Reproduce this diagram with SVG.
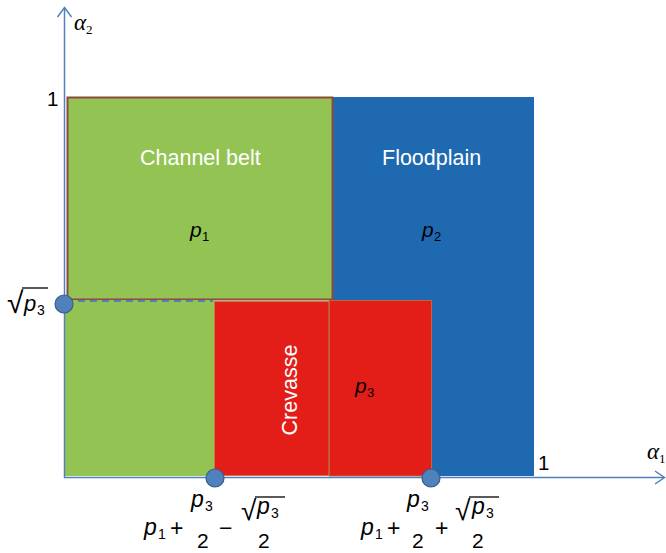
<svg xmlns="http://www.w3.org/2000/svg" width="666" height="553" viewBox="0 0 666 553">
<style>
.lbl{font-family:"Liberation Sans",Arial,sans-serif;font-size:21.5px;fill:#ffffff}
.m{font-family:"Liberation Sans",Arial,sans-serif;font-size:23px;fill:#000000}
.mi{font-family:"Liberation Sans",Arial,sans-serif;font-size:23px;font-style:italic;fill:#000000}
.sub{font-family:"Liberation Sans",Arial,sans-serif;font-size:14px;fill:#000000}
.den{font-family:"Liberation Sans",Arial,sans-serif;font-size:21px;fill:#000000}
.ri{font-family:"Liberation Sans",Arial,sans-serif;font-size:21px;font-style:italic;fill:#000000}
.rs{font-family:"Liberation Sans",Arial,sans-serif;font-size:13px;fill:#000000}
.gr{font-family:"Liberation Serif","Times New Roman",serif;font-size:23px;font-style:italic;fill:#000000}
.gs{font-family:"Liberation Serif","Times New Roman",serif;font-size:13px;fill:#000000}
.tick{font-family:"Liberation Sans",Arial,sans-serif;font-size:20.5px;fill:#000000}
.ax{stroke:#4F81BD;stroke-width:1.5;fill:none}
.dot{fill:#4F81BD;stroke:#385D8A;stroke-width:1.2}
.bar{stroke:#000000;stroke-width:1.3}
</style>
<rect width="666" height="553" fill="#ffffff"/>

<g id="floodplain">
<rect x="333" y="97" width="201" height="379" fill="#1F69B1"/>
<text class="lbl" x="382" y="165">Floodplain</text>
<text class="ri" x="422" y="237">p</text><text class="rs" x="434" y="241">2</text>
</g>

<g id="channel-belt">
<rect x="67.5" y="97.5" width="265" height="202" fill="#93C353" stroke="#8E4A3F" stroke-width="2"/>
<rect x="64" y="300" width="150" height="176" fill="#93C353"/>
<text class="lbl" x="140" y="165">Channel belt</text>
<text class="ri" x="190" y="237">p</text><text class="rs" x="202" y="241">1</text>
</g>

<g id="crevasse">
<rect x="214.5" y="301.5" width="114.5" height="174" fill="#E31D18" stroke="#D07A3A" stroke-width="1"/>
<rect x="329.5" y="300.5" width="102" height="175.5" fill="#E31D18" stroke="#C0683A" stroke-width="1"/>
<text class="lbl" transform="translate(297,390) rotate(-90)" text-anchor="middle">Crevasse</text>
<text class="ri" x="355" y="393">p</text><text class="rs" x="367" y="397">3</text>
</g>

<g id="connectors">
<line class="ax" x1="64.5" y1="478" x2="64.5" y2="8"/>
<polyline class="ax" points="57.5,17 64.5,7.5 71.5,17"/>
<line class="ax" x1="64" y1="477.5" x2="664" y2="477.5"/>
<polyline class="ax" points="655,471 664.5,477.5 655,484"/>
<line x1="66" y1="301" x2="213" y2="301" stroke="#4F81BD" stroke-width="2.2" stroke-dasharray="7,5"/>
</g>

<g id="axis-labels">
<text class="gr" x="74" y="30">α</text><text class="gs" x="86" y="34">2</text>
<text class="gr" x="647" y="459">α</text><text class="gs" x="659" y="463">1</text>
<text class="tick" x="47" y="106">1</text>
<text class="tick" x="538" y="470">1</text>
<text class="m" x="7" y="313" style="font-size:30px">√</text>
<line class="bar" x1="22" y1="288" x2="48" y2="288"/>
<text class="mi" x="24" y="311" style="font-size:22px">p</text><text class="sub" x="37" y="315">3</text>
</g>

<g id="marker-sqrt-p3"><circle class="dot" cx="64" cy="304" r="9"/></g>
<g id="marker-left"><circle class="dot" cx="215" cy="478" r="9"/></g>
<g id="marker-right"><circle class="dot" cx="431" cy="478" r="9"/></g>

<g id="formula-left">
<text class="mi" x="144" y="535">p</text><text class="sub" x="158" y="539">1</text>
<text class="m" x="170" y="536">+</text>
<text class="mi" x="191" y="507">p</text><text class="sub" x="205" y="511">3</text>
<text class="den" x="197" y="548">2</text>
<text class="m" x="219" y="536">−</text>
<text class="m" x="241" y="520" style="font-size:28px">√</text>
<line class="bar" x1="255" y1="497" x2="285" y2="497"/>
<text class="mi" x="257" y="514">p</text><text class="sub" x="271" y="518">3</text>
<text class="den" x="258" y="548">2</text>
</g>

<g id="formula-right">
<text class="mi" x="361" y="535">p</text><text class="sub" x="375" y="539">1</text>
<text class="m" x="387" y="536">+</text>
<text class="mi" x="407" y="507">p</text><text class="sub" x="421" y="511">3</text>
<text class="den" x="412" y="548">2</text>
<text class="m" x="435" y="536">+</text>
<text class="m" x="455" y="520" style="font-size:28px">√</text>
<line class="bar" x1="469" y1="497" x2="499" y2="497"/>
<text class="mi" x="472" y="514">p</text><text class="sub" x="486" y="518">3</text>
<text class="den" x="472" y="548">2</text>
</g>
</svg>
